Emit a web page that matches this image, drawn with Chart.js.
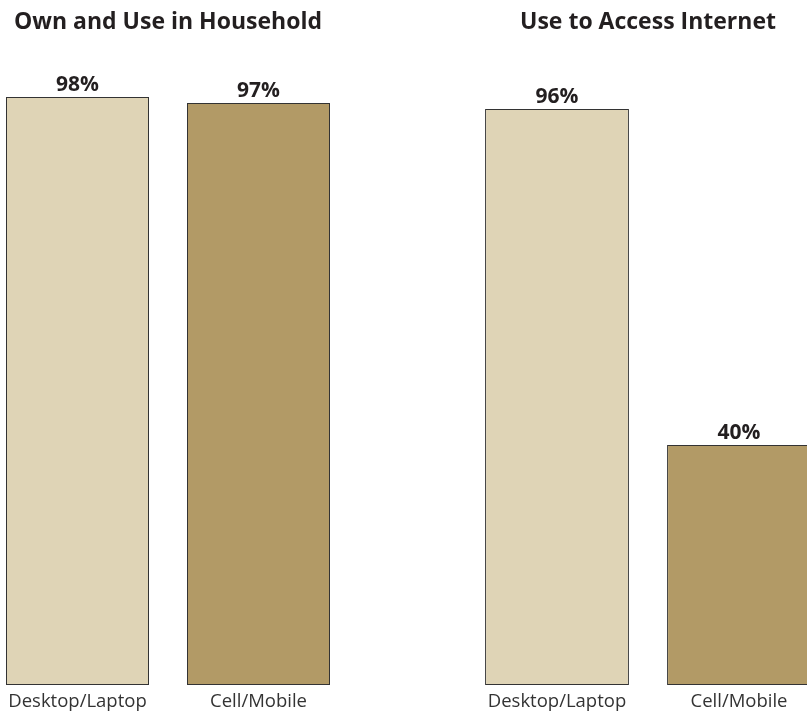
<!DOCTYPE html>
<html>
<head>
<meta charset="utf-8">
<script src="https://cdn.jsdelivr.net/npm/chart.js"></script>
<style>
  html, body { margin: 0; padding: 0; background: #fff; }
  #wrap { position: relative; width: 807px; height: 715px; overflow: hidden; }
  canvas { position: absolute; top: 0; }
  #left { left: -13px; }
  #right { left: 466px; }
</style>
</head>
<body>
<div id="wrap">
  <canvas id="left" width="362" height="715"></canvas>
  <canvas id="right" width="364" height="715"></canvas>
</div>
<script>
// data
const categories = ["Desktop/Laptop", "Cell/Mobile"];
const householdValues = [98, 97];
const internetValues = [96, 40];
const titles = ["Own and Use in Household", "Use to Access Internet"];
const barColors = ["#DFD4B6", "#B29A66"];

const FONT = "'Open Sans', 'Noto Sans', sans-serif";

// etiquettes de valeur au-dessus des barres
const valueLabels = {
  id: "valueLabels",
  afterDatasetsDraw(chart) {
    const ctx = chart.ctx;
    const meta = chart.getDatasetMeta(0);
    ctx.save();
    ctx.font = "bold 21px " + FONT;
    ctx.fillStyle = "#231F20";
    ctx.textAlign = "center";
    ctx.textBaseline = "alphabetic";
    meta.data.forEach((bar, i) => {
      const v = chart.data.datasets[0].data[i];
      ctx.fillText(v + "%", bar.x, bar.y - 6);
    });
    ctx.restore();
  }
};

function makeChart(id, title, values) {
  return new Chart(document.getElementById(id), {
    type: "bar",
    data: {
      labels: categories,
      datasets: [{
        data: values,
        backgroundColor: barColors,
        borderColor: "#333333",
        borderWidth: 1,
        borderSkipped: false,
        categoryPercentage: 1,
        barPercentage: 0.79
      }]
    },
    options: {
      responsive: false,
      animation: false,
      layout: { padding: { left: 0, right: 0, top: 0, bottom: 4 } },
      plugins: {
        legend: { display: false },
        tooltip: { enabled: false },
        title: {
          display: true,
          text: title,
          color: "#231F20",
          font: { family: FONT, size: 23, weight: "bold" },
          padding: { top: 9, bottom: 48.4 }
        }
      },
      scales: {
        x: {
          grid: { display: false, drawTicks: false },
          border: { display: false },
          ticks: {
            color: "#333",
            font: { family: FONT, size: 18.5 },
            padding: 6
          },
          afterFit(scale) { scale.height = 26; }
        },
        y: {
          display: false,
          min: 0,
          max: 100
        }
      }
    },
    plugins: [valueLabels]
  });
}

makeChart("left", titles[0], householdValues);
makeChart("right", titles[1], internetValues);
</script>
</body>
</html>
